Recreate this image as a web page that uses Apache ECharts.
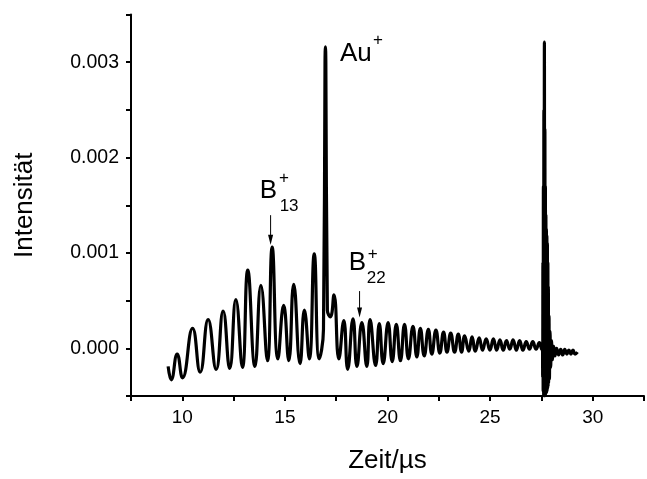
<!DOCTYPE html>
<html><head><meta charset="utf-8">
<script src="https://cdn.jsdelivr.net/npm/echarts@6/dist/echarts.min.js"></script>
<style>html,body{margin:0;padding:0;background:#fff;overflow:hidden}#c{width:647px;height:479px}</style>
</head><body><div id="c"></div>
<script>
// Time of flight (µs) and intensity (peaks/troughs)
const timeUs = [
  9.31, 9.46, 9.75, 10.01, 10.50, 10.87, 11.26, 11.65, 11.99, 12.31, 12.61, 12.93,
  13.19, 13.54, 13.83, 14.15, 14.38, 14.66, 14.94, 15.19, 15.43, 15.74, 15.95, 16.19,
  16.43, 16.67, 16.88, 16.955, 16.975, 16.995, 17.07, 17.22, 17.39, 17.63, 17.87, 18.06, 18.32, 18.51,
  18.75, 18.99, 19.15, 19.42, 19.60, 19.79, 20.03, 20.23, 20.43, 20.63, 20.83, 21.02,
  21.24, 21.43, 21.60, 21.79, 21.99, 22.16, 22.36, 22.55, 22.73, 22.90, 23.08, 23.27,
  23.45, 23.61, 23.76, 23.96, 24.12, 24.28, 24.47, 24.63, 24.81, 24.99, 25.16, 25.32,
  25.48, 25.64, 25.80, 25.96, 26.12, 26.28, 26.44, 26.60, 26.76, 26.92, 27.08, 27.24,
  27.40, 27.52, 27.55, 27.562, 27.574, 27.586, 27.598, 27.61, 27.622, 27.634, 27.646, 27.658,
  27.67, 27.682, 27.694, 27.706, 27.718, 27.73, 27.742, 27.754, 27.766, 27.778, 27.79, 27.802,
  27.814, 27.826, 27.838, 27.85, 27.87, 27.89, 27.92, 27.95, 27.99, 28.04, 28.10, 28.16,
  28.24, 28.34, 28.44, 28.54, 28.64, 28.74, 28.84, 28.94, 29.04, 29.14, 29.26, 29.38
];
const intensity = [
  -0.00019, -0.00033, -0.00006, -0.00031, 0.00021, -0.00025, 0.00030, -0.00022, 0.00039, -0.00021, 0.00051, -0.00020,
  0.00082, -0.00019, 0.00066, -0.00013, 0.00106, -0.00011, 0.00045, -0.00013, 0.00067, -0.00016, 0.00040, -0.00011,
  0.00099, -0.00011, 0.00020, 0.00300, 0.00316, 0.00300, 0.00040, 0.00033, 0.00056, -0.00011, 0.00029, -0.00022, 0.00031, -0.00019,
  0.00027, -0.00019, 0.00030, -0.00018, 0.00026, -0.00016, 0.00027, -0.00014, 0.00025, -0.00013, 0.00025, -0.00011,
  0.00023, -0.00009, 0.00021, -0.00008, 0.00020, -0.00006, 0.00019, -0.00005, 0.00017, -0.00004, 0.00016, -0.00004,
  0.00015, -0.00004, 0.00013, -0.00003, 0.00012, -0.00003, 0.00011, -0.00002, 0.00010, -0.00002, 0.00010, -0.00002,
  0.00009, -0.00002, 0.00008, -0.00001, 0.00009, -0.00002, 0.00008, -0.00002, 0.00007, -0.00001, 0.00007, -0.00001,
  0.00006, -0.00001, 0.00003, -0.00030, 0.00090, -0.00045, 0.00170, -0.00049, 0.00250, -0.00050, 0.00321, -0.00050,
  0.00230, -0.00049, 0.00170, -0.00048, 0.00140, -0.00047, 0.00125, -0.00046, 0.00118, -0.00044, 0.00110, -0.00042,
  0.00090, -0.00040, 0.00065, -0.00036, 0.00034, -0.00032, 0.00018, -0.00020, 0.00008, -0.00012, 0.00002, -0.00008,
  0.00000, -0.00007, -0.00001, -0.00007, -0.00001, -0.00006, -0.00002, -0.00006, -0.00002, -0.00006, -0.00004
];
const xTickLabels = [10, 15, 20, 25, 30];
const yTickLabels = [0, 0.001, 0.002, 0.003];

// Annotation anchors (data coordinates)
const annoText = [
  {text: 'Au', t: 17.68, v: 0.003092, size: 26, align: 'left'},
  {text: '+', t: 19.54, v: 0.003226, size: 17, align: 'center'},
  {text: 'B', t: 13.78, v: 0.001655, size: 26, align: 'left'},
  {text: '+', t: 14.95, v: 0.001779, size: 17, align: 'center'},
  {text: '13', t: 14.745, v: 0.001489, size: 17, align: 'left'},
  {text: 'B', t: 18.11, v: 0.000892, size: 26, align: 'left'},
  {text: '+', t: 19.28, v: 0.000982, size: 17, align: 'center'},
  {text: '22', t: 18.99, v: 0.000729, size: 17, align: 'left'}
];
const annoArrows = [
  {t: 14.303, from: 0.001396, to: 0.001086},
  {t: 18.639, from: 0.000600, to: 0.000324}
];

const FONT = '"Liberation Sans", Arial, Helvetica, sans-serif';
const chart = echarts.init(document.getElementById('c'), null, {renderer: 'canvas'});
const seriesData = timeUs.map((t, i) => [t, intensity[i]]);

chart.setOption({
  animation: false,
  backgroundColor: '#fff',
  grid: {left: 131, top: 14.5, width: 520, height: 386.8, containLabel: false},
  xAxis: {
    type: 'value', min: 7.5, max: 32.5, interval: 2.5,
    name: 'Zeit/µs', nameLocation: 'middle', nameGap: 52,
    nameTextStyle: {fontFamily: FONT, fontSize: 26, color: '#000'},
    axisLine: {show: true, onZero: false, lineStyle: {color: '#000', width: 2}},
    axisTick: {show: true, inside: false, length: 5, lineStyle: {color: '#000', width: 2}},
    splitLine: {show: false},
    axisLabel: {
      margin: 12, fontFamily: FONT, fontSize: 19, color: '#000',
      formatter: v => xTickLabels.some(x => Math.abs(x - v) < 1e-6) ? String(Math.round(v)) : ''
    }
  },
  yAxis: {
    type: 'value', min: -0.0005, max: 0.0035, interval: 0.0005,
    name: 'Intensität', nameLocation: 'middle', nameGap: 93, nameRotate: 90,
    nameTextStyle: {fontFamily: FONT, fontSize: 26, color: '#000'},
    axisLine: {show: true, onZero: false, lineStyle: {color: '#000', width: 2}},
    axisTick: {show: true, inside: false, length: 5, lineStyle: {color: '#000', width: 2}},
    splitLine: {show: false},
    axisLabel: {
      margin: 12, fontFamily: FONT, fontSize: 19.5, color: '#000',
      formatter: v => yTickLabels.some(y => Math.abs(y - v) < 1e-9) ? v.toFixed(3) : ''
    }
  },
  series: [{
    type: 'line', data: seriesData, showSymbol: false, symbol: 'none',
    smooth: 0.5, lineStyle: {color: '#000', width: 3.2}, clip: true
  }]
});

const g = [];
annoText.forEach(a => {
  const p = chart.convertToPixel({gridIndex: 0}, [a.t, a.v]);
  g.push({type: 'text', x: p[0], y: p[1], z: 100,
    style: {text: a.text, fontFamily: FONT, fontSize: a.size, fill: '#000', align: a.align, verticalAlign: 'middle'}});
});
annoArrows.forEach(a => {
  const p1 = chart.convertToPixel({gridIndex: 0}, [a.t, a.from]);
  const p2 = chart.convertToPixel({gridIndex: 0}, [a.t, a.to]);
  g.push({type: 'line', z: 100, shape: {x1: p1[0], y1: p1[1], x2: p2[0], y2: p2[1] - 6}, style: {stroke: '#000', lineWidth: 1}});
  g.push({type: 'polygon', z: 100, shape: {points: [[p2[0] - 2.5, p2[1] - 10], [p2[0] + 2.5, p2[1] - 10], [p2[0], p2[1]]]}, style: {fill: '#000'}});
});
chart.setOption({graphic: g});
</script>
</body></html>
